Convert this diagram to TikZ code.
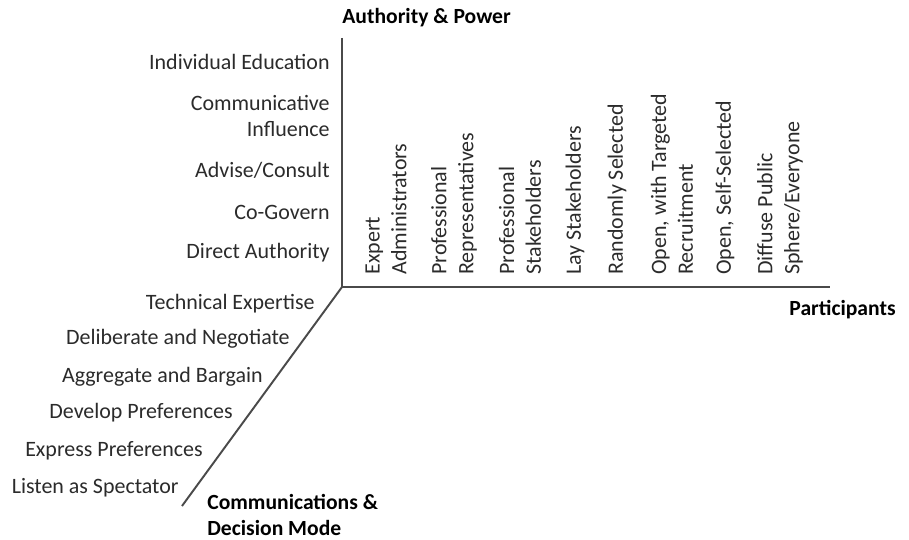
\documentclass[tikz,border=0pt]{standalone}
\usepackage{fontspec}
\setmainfont{Carlito}
\usetikzlibrary{positioning}
\definecolor{axisgray}{HTML}{4A4A4A}
\definecolor{labelgray}{HTML}{2B2B2B}

\begin{document}
\begin{tikzpicture}[
  x=0.02cm, y=-0.02cm,
  axis/.style={draw=axisgray, line width=1.1pt},
  level/.style={text=labelgray, font=\fontsize{12.5}{14.8}\selectfont, inner sep=0pt, align=right, anchor=east},
  group/.style={text=labelgray, font=\fontsize{12.5}{15.3}\selectfont, inner sep=0pt, align=left, rotate=90, anchor=west},
  title/.style={text=black, font=\fontsize{12.3}{14.6}\selectfont\bfseries, inner sep=0pt, align=left}
]
\useasboundingbox (0,0) rectangle (909,540);

% the three axes
\coordinate (origin) at (342,287);
\coordinate (ytop) at (342,38);
\coordinate (xend) at (830,287);
\coordinate (zend) at (182,506);
\draw[axis] (ytop) -- (origin) -- (xend);
\draw[axis] (origin) -- (zend);

% axis titles
\node[title, anchor=west] (power) at (342,18) {Authority \& Power};
\node[title, anchor=east] (parts) at (896,310) {Participants};
\node[title, anchor=north west] (mode) at (207,494) {Communications \&\\Decision Mode};

% authority levels
\node[level] (educ) at (330,62) {Individual Education};
\node[level] (comm) at (330,116) {Communicative\\Influence};
\node[level] (advise) at (330,170) {Advise/Consult};
\node[level] (cogov) at (330,212) {Co-Govern};
\node[level] (direct) at (330,253) {Direct Authority};

% communication modes
\node[level] (tech) at (315,304) {Technical Expertise};
\node[level] (delib) at (290,339) {Deliberate and Negotiate};
\node[level] (aggr) at (263,377) {Aggregate and Bargain};
\node[level] (devel) at (233,413) {Develop Preferences};
\node[level] (expr) at (203,451) {Express Preferences};
\node[level] (listen) at (179,488) {Listen as Spectator};

% participant groups
\node[group] (admin) at (386,275) {Expert\\Administrators};
\node[group] (reps) at (454,275) {Professional\\Representatives};
\node[group] (stake) at (520,275) {Professional\\Stakeholders};
\node[group] (lay) at (575,275) {Lay Stakeholders};
\node[group] (random) at (617,275) {Randomly Selected};
\node[group] (target) at (672,275) {Open, with Targeted\\Recruitment};
\node[group] (self) at (725,275) {Open, Self-Selected};
\node[group] (public) at (780,275) {Diffuse Public\\Sphere/Everyone};
\end{tikzpicture}
\end{document}
